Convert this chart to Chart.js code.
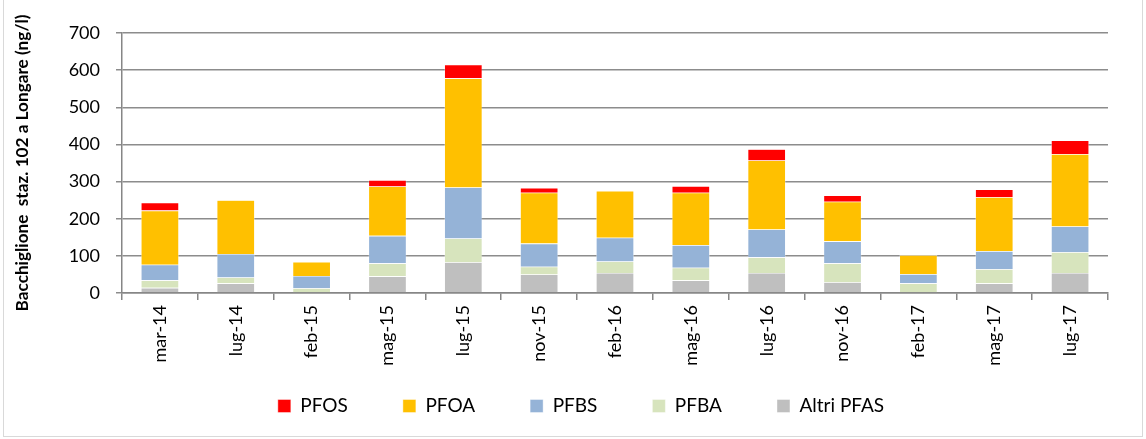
<!DOCTYPE html>
<html>
<head>
<meta charset="utf-8">
<script src="https://cdn.jsdelivr.net/npm/chart.js@4"></script>
<style>
  html, body { margin: 0; padding: 0; background: #fff; }
  #wrap { position: relative; width: 1146px; height: 439px; }
  #frame { position: absolute; left: 3px; top: 0; width: 1140px; height: 437px; border: 1px solid #d9d9d9; border-top: none; box-sizing: border-box; pointer-events: none; }
</style>
</head>
<body>
<div id="wrap">
  <canvas id="pfasChart" width="1146" height="439"></canvas>
  <div id="frame"></div>
</div>
<script>
const labels = ['mar-14', 'lug-14', 'feb-15', 'mag-15', 'lug-15', 'nov-15', 'feb-16', 'mag-16', 'lug-16', 'nov-16', 'feb-17', 'mag-17', 'lug-17'];
const altriPfas = [14, 26, 0, 45, 83, 50, 54, 34, 54, 29, 0, 26, 54];
const pfba = [20, 16, 13, 35, 64, 21, 31, 34, 42, 51, 26, 38, 56];
const pfbs = [42, 63, 33, 74, 137, 62, 64, 61, 75, 59, 25, 49, 69];
const pfoa = [146, 145, 38, 133, 294, 137, 126, 141, 186, 107, 51, 145, 195];
const pfos = [21, 0, 0, 17, 37, 13, 0, 18, 30, 17, 0, 21, 37];
const yTicks = [0, 100, 200, 300, 400, 500, 600, 700];

const font = 'Lato, "Open Sans", sans-serif';

document.addEventListener("DOMContentLoaded", function() {
    const ctx = document.getElementById('pfasChart').getContext('2d');
    const barStyle = { borderColor: 'rgba(255,255,255,0.7)', borderWidth: 0.6, barPercentage: 0.5, categoryPercentage: 1.0 };
    const pfasChart = new Chart(ctx, {
        type: 'bar',
        data: {
            labels: labels,
            datasets: [
                Object.assign({ label: 'Altri PFAS', data: altriPfas, backgroundColor: '#bfbfbf' }, barStyle),
                Object.assign({ label: 'PFBA', data: pfba, backgroundColor: '#d7e4bd' }, barStyle),
                Object.assign({ label: 'PFBS', data: pfbs, backgroundColor: '#95b3d7' }, barStyle),
                Object.assign({ label: 'PFOA', data: pfoa, backgroundColor: '#ffc000' }, barStyle),
                Object.assign({ label: 'PFOS', data: pfos, backgroundColor: '#ff0000' }, barStyle)
            ]
        },
        options: {
            responsive: false,
            animation: false,
            // left padding also shifts the legend centre to where it sits in the original
            layout: { padding: { top: 33, right: 38, bottom: 13.5, left: 54 } },
            plugins: {
                tooltip: { enabled: false },
                legend: {
                    position: 'bottom',
                    reverse: true,
                    labels: {
                        boxWidth: 13,
                        boxHeight: 13,
                        padding: 55,
                        color: '#000',
                        font: { family: font, size: 19 }
                    }
                }
            },
            scales: {
                x: {
                    stacked: true,
                    border: { color: '#868686', width: 1.5 },
                    grid: { offset: true, drawOnChartArea: false, drawTicks: true, tickLength: 7, color: '#868686', lineWidth: 1.5 },
                    ticks: { minRotation: 90, maxRotation: 90, color: '#000', padding: 5, font: { family: font, size: 18 } },
                    afterFit: function(scale) {
                        scale.height = 48.5;
                        // labels run past the shortened box, so don't clip them
                        scale._computeLabelArea = () => undefined;
                    }
                },
                y: {
                    stacked: true,
                    min: 0,
                    max: 700,
                    afterBuildTicks: function(scale) { scale.ticks = yTicks.map(v => ({ value: v })); },
                    border: { color: '#868686', width: 1.5 },
                    grid: { color: '#8c8c8c', lineWidth: 1.5, tickLength: 6 },
                    ticks: { color: '#000', padding: 16, font: { family: font, size: 18 } },
                    title: {
                        display: true,
                        text: 'Bacchiglione  staz. 102 a Longare (ng/l)',
                        color: '#000',
                        font: { family: font, size: 17.2, weight: 'bold' },
                        padding: { top: -42, bottom: 0 }
                    },
                    afterFit: function(scale) { scale.width = 68; }
                }
            }
        }
    });
});
</script>
</body>
</html>
